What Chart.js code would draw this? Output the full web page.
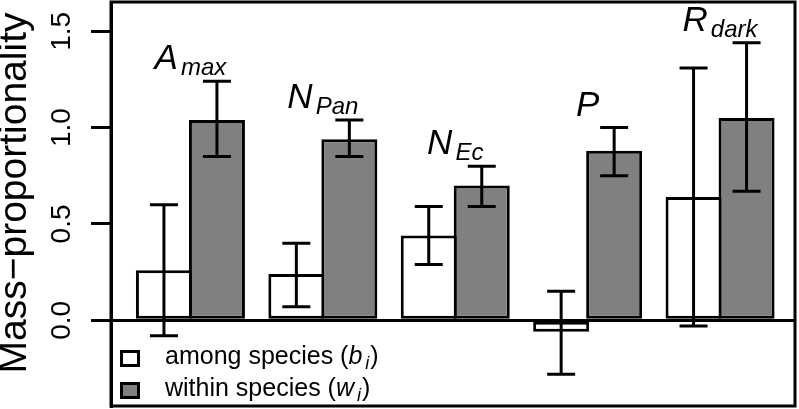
<!DOCTYPE html>
<html>
<head>
<meta charset="utf-8">
<script src="https://cdn.jsdelivr.net/npm/chart.js@4.4.1/dist/chart.umd.min.js"></script>
<style>
    html, body { margin: 0; padding: 0; background: #fff; }
    canvas { display: block; }
</style>
</head>
<body>
<canvas id="massChart" width="799" height="409"></canvas>
<script>
// Traits: main symbol + subscript
const traitMain = ["A", "N", "N", "P", "R"];
const traitSub = ["max", "Pan", "Ec", "", "dark"];
const traitPos = [1, 2, 3, 4, 5];

// Among species (b_i)
const amongMean = [0.26, 0.24, 0.44, -0.06, 0.64];
const amongLow = [-0.08, 0.07, 0.29, -0.28, -0.03];
const amongHigh = [0.60, 0.40, 0.59, 0.15, 1.31];

// Within species (w_i)
const withinMean = [1.04, 0.94, 0.70, 0.88, 1.05];
const withinLow = [0.85, 0.85, 0.59, 0.75, 0.67];
const withinHigh = [1.24, 1.04, 0.80, 1.00, 1.44];

const yTickValues = [0, 0.5, 1, 1.5];
const yTitle = "Mass\u2212proportionality";
const seriesNames = ["among species", "within species"];
const seriesSymbols = ["b", "w"];

const FONT = "'Liberation Sans', Arial, Helvetica, sans-serif";
const lows = [amongLow, withinLow];
const highs = [amongHigh, withinHigh];

// draw a run of text pieces (for italic symbols and subscripts)
function drawPieces(ctx, parts, x, y, center) {
    ctx.save();
    ctx.textAlign = "left";
    ctx.textBaseline = "alphabetic";
    ctx.fillStyle = "#000";
    let total = 0;
    parts.forEach(p => {
        ctx.font = p.font;
        total += ctx.measureText(p.text).width + (p.gap || 0);
    });
    let cx = center ? x - total / 2 : x;
    parts.forEach(p => {
        ctx.font = p.font;
        cx += p.gap || 0;
        ctx.fillText(p.text, cx, y + (p.dy || 0));
        cx += ctx.measureText(p.text).width;
    });
    ctx.restore();
}

const annotations = {
    id: "annotations",
    afterDatasetsDraw(chart) {
        const ctx = chart.ctx;
        const xs = chart.scales.x;
        const ys = chart.scales.y;
        const area = chart.chartArea;

        // error bars
        ctx.save();
        ctx.strokeStyle = "#000";
        ctx.lineWidth = 3;
        chart.data.datasets.forEach((ds, d) => {
            chart.getDatasetMeta(d).data.forEach((bar, i) => {
                const y1 = ys.getPixelForValue(lows[d][i]);
                const y2 = ys.getPixelForValue(highs[d][i]);
                ctx.beginPath();
                ctx.moveTo(bar.x, y1);
                ctx.lineTo(bar.x, y2);
                ctx.moveTo(bar.x - 14, y1);
                ctx.lineTo(bar.x + 14, y1);
                ctx.moveTo(bar.x - 14, y2);
                ctx.lineTo(bar.x + 14, y2);
                ctx.stroke();
            });
        });

        // plot frame
        ctx.strokeRect(area.left, area.top, area.right - area.left, area.bottom - area.top);
        ctx.restore();

        // trait labels above each group
        traitMain.forEach((m, i) => {
            const cx = xs.getPixelForValue(traitPos[i]);
            const top = ys.getPixelForValue(Math.max(amongHigh[i], withinHigh[i])) - 12;
            const parts = [{ text: m, font: "italic 35px " + FONT }];
            if (traitSub[i]) {
                parts.push({ text: traitSub[i], font: "italic 24px " + FONT, dy: 6, gap: 3 });
            }
            drawPieces(ctx, parts, cx, top, true);
        });

        // legend in the lower left corner
        ctx.save();
        ctx.lineWidth = 3;
        ctx.strokeStyle = "#000";
        chart.data.datasets.forEach((ds, d) => {
            const by = 351.5 + d * 32;
            ctx.fillStyle = ds.backgroundColor;
            ctx.fillRect(121.5, by, 17, 14);
            ctx.strokeRect(121.5, by, 17, 14);
            drawPieces(ctx, [
                { text: seriesNames[d] + " (", font: "25px " + FONT },
                { text: seriesSymbols[d], font: "italic 25px " + FONT },
                { text: "i", font: "italic 18px " + FONT, dy: 5, gap: 3 },
                { text: ")", font: "25px " + FONT, gap: 1 }
            ], 165, by + 12, false);
        });
        ctx.restore();

        // y axis title, rotated
        ctx.save();
        ctx.translate(15.5, 193);
        ctx.rotate(-Math.PI / 2);
        ctx.font = "39px " + FONT;
        ctx.fillStyle = "#000";
        ctx.textAlign = "center";
        ctx.textBaseline = "middle";
        ctx.fillText(yTitle, 0, 0);
        ctx.restore();
    }
};

const ctx = document.getElementById("massChart").getContext("2d");
new Chart(ctx, {
    type: "bar",
    data: {
        datasets: [
            {
                label: "among species (b_i)",
                data: traitPos.map((x, i) => ({ x: x, y: amongMean[i] })),
                backgroundColor: "#FFFFFF",
                borderColor: "#000000",
                borderWidth: 3,
                borderSkipped: false,
            },
            {
                label: "within species (w_i)",
                data: traitPos.map((x, i) => ({ x: x, y: withinMean[i] })),
                backgroundColor: "#808080",
                borderColor: "#000000",
                borderWidth: 3,
                borderSkipped: false,
            },
        ],
    },
    options: {
        responsive: false,
        animation: false,
        categoryPercentage: 0.8006,
        barPercentage: 1.0566,
        layout: {
            padding: { left: 0, top: 2, right: 4, bottom: 3 },
        },
        plugins: {
            legend: { display: false },
            tooltip: { enabled: false },
        },
        scales: {
            x: {
                type: "linear",
                display: false,
                offset: false,
                min: 0.4,
                max: 5.566,
                afterBuildTicks: (scale) => {
                    scale.ticks = traitPos.map(v => ({ value: v }));
                },
            },
            y: {
                min: -0.445,
                max: 1.652,
                afterBuildTicks: (scale) => {
                    scale.ticks = yTickValues.map(v => ({ value: v }));
                },
                afterFit: (scale) => {
                    scale.width = 111;
                    scale.paddingTop = 0;
                    scale.paddingBottom = 0;
                },
                border: { display: true, color: "#000", width: 3 },
                grid: {
                    drawOnChartArea: true,
                    color: (c) => (c.tick && c.tick.value === 0 ? "#000" : "rgba(0,0,0,0)"),
                    lineWidth: 3,
                    drawTicks: true,
                    tickLength: 20,
                    tickColor: "#000",
                    tickWidth: 3,
                },
                ticks: {
                    color: "#000",
                    font: { family: FONT, size: 28 },
                    minRotation: 90,
                    maxRotation: 90,
                    crossAlign: "center",
                    padding: 9,
                    callback: (v) => Number(v).toFixed(1),
                },
            },
        },
    },
    plugins: [annotations],
});
</script>
</body>
</html>
